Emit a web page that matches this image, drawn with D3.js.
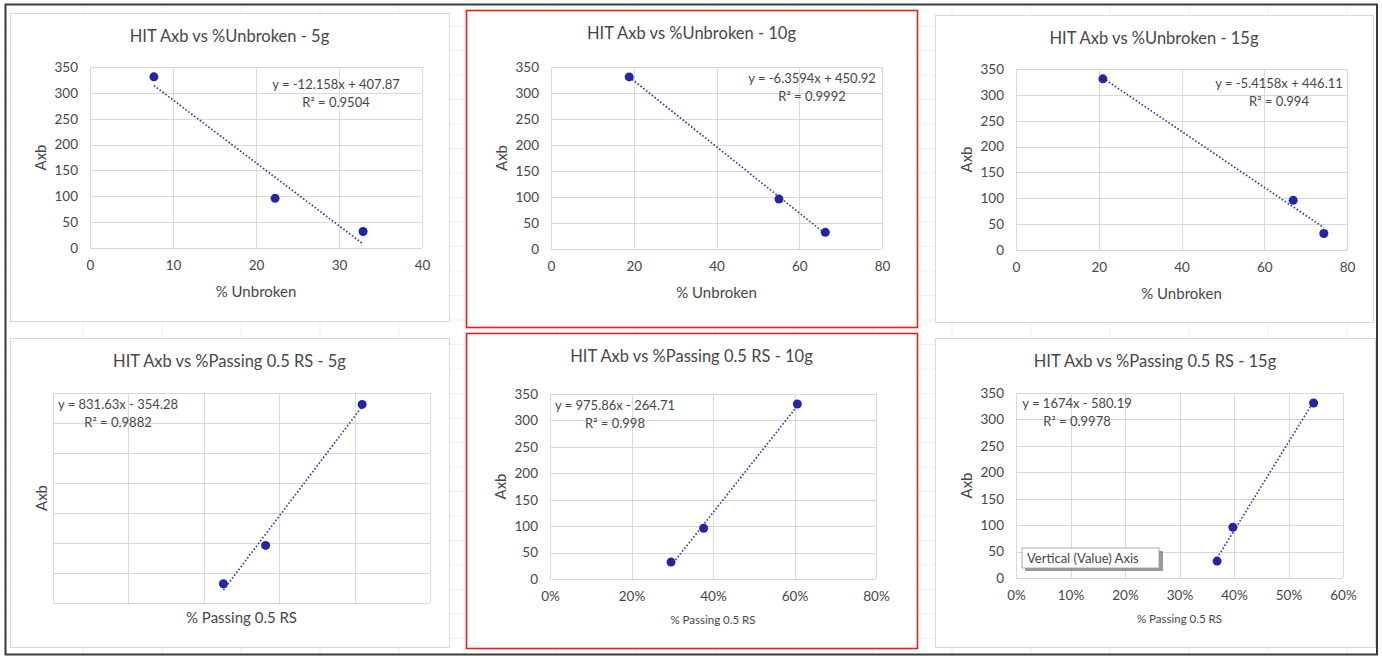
<!DOCTYPE html>
<html>
<head>
<meta charset="utf-8">
<script src="https://cdn.jsdelivr.net/npm/d3@7"></script>
<style>
  html, body { margin: 0; padding: 0; background: #fff; }
  svg { display: block; }
  text { font-family: Lato, "Open Sans", sans-serif; fill: #474747; }
</style>
</head>
<body>
<div id="sheet"></div>
<script>
// three ore samples, same order in every array
const axbValues = [331, 96, 32];
const unbroken5 = [7.7, 22.3, 32.9];
const unbroken10 = [18.9, 55.1, 66.3];
const unbroken15 = [21.0, 67.0, 74.4];
const passing5 = [0.820, 0.564, 0.452];
const passing10 = [0.607, 0.377, 0.297];
const passing15 = [0.546, 0.398, 0.369];

const chartTitles = [
  "HIT Axb vs %Unbroken - 5g", "HIT Axb vs %Unbroken - 10g", "HIT Axb vs %Unbroken - 15g",
  "HIT Axb vs %Passing 0.5 RS - 5g", "HIT Axb vs %Passing 0.5 RS - 10g", "HIT Axb vs %Passing 0.5 RS - 15g"
];
const xTitles = ["% Unbroken", "% Unbroken", "% Unbroken", "% Passing 0.5 RS", "% Passing 0.5 RS", "% Passing 0.5 RS"];
const yTitle = "Axb";
const slopes = [-12.158, -6.3594, -5.4158, 831.63, 975.86, 1674];
const intercepts = [407.87, 450.92, 446.11, -354.28, -264.71, -580.19];
const rSquared = [0.9504, 0.9992, 0.994, 0.9882, 0.998, 0.9978];
const xDomains = [[0, 40], [0, 80], [0, 80], [0, 1], [0, 0.8], [0, 0.6]];
const xTicks = [[0, 10, 20, 30, 40], [0, 20, 40, 60, 80], [0, 20, 40, 60, 80],
  [0, 0.2, 0.4, 0.6, 0.8, 1], [0, 0.2, 0.4, 0.6, 0.8], [0, 0.1, 0.2, 0.3, 0.4, 0.5, 0.6]];
const yTicks = [0, 50, 100, 150, 200, 250, 300, 350];
const xSeries = [unbroken5, unbroken10, unbroken15, passing5, passing10, passing15];

// layout of the six chart objects on the sheet
const layout = [
  { box: [10, 13, 449, 321], plot: [90, 67, 422, 248], labels: true, pct: false, eq: [336, 89], xt: 44, xtSize: 15, red: false },
  { box: [466, 10, 917, 327], plot: [551, 67, 882, 249], labels: true, pct: false, eq: [812, 83], xt: 44, xtSize: 15, red: true },
  { box: [935, 15, 1373, 322], plot: [1016, 69, 1347, 250], labels: true, pct: false, eq: [1279, 88], xt: 44, xtSize: 15, red: false },
  { box: [10, 338, 449, 647], plot: [53, 393, 430, 603], labels: false, pct: true, eq: [118, 409], xt: 15, xtSize: 15, red: false },
  { box: [466, 333, 917, 648], plot: [550, 394, 876, 579], labels: true, pct: true, eq: [615, 410], xt: 41, xtSize: 11.5, red: true },
  { box: [935, 338, 1375, 647], plot: [1016, 393, 1343, 578], labels: true, pct: true, eq: [1077, 408], xt: 41, xtSize: 11.5, red: false }
];

const W = 1382, H = 656;
const svg = d3.select("#sheet").append("svg").attr("width", W).attr("height", H);

svg.append("rect").attr("width", W).attr("height", H).attr("fill", "#fff");

// faint spreadsheet cell lines behind the charts
const sheet = svg.append("g").attr("stroke", "#efefef").attr("stroke-width", 1);
sheet.selectAll("line.col").data(d3.range(83, W, 79)).enter().append("line")
  .attr("x1", d => d).attr("x2", d => d).attr("y1", 6).attr("y2", H - 2);
sheet.selectAll("line.row").data(d3.range(26, H, 24.5)).enter().append("line")
  .attr("y1", d => d).attr("y2", d => d).attr("x1", 6).attr("x2", W - 5);

// outer frame of the screenshot
svg.append("rect").attr("x", 5.5).attr("y", 4.5).attr("width", 1371.5).attr("height", 650)
  .attr("fill", "none").attr("stroke", "#3a3a3a").attr("stroke-width", 2);

const fmtEq = (m, b) => "y = " + m + "x " + (b < 0 ? "- " : "+ ") + Math.abs(b);

layout.forEach((L, i) => {
  const g = svg.append("g");
  const [bx0, by0, bx1, by1] = L.box;
  const [px0, py0, px1, py1] = L.plot;

  g.append("rect").attr("x", bx0 + 0.5).attr("y", by0 + 0.5)
    .attr("width", bx1 - bx0).attr("height", by1 - by0)
    .attr("fill", "#fff")
    .attr("stroke", L.red ? "#f01c1c" : "#d9d9d9")
    .attr("stroke-width", L.red ? 1.6 : 1);

  const x = d3.scaleLinear().domain(xDomains[i]).range([px0, px1]);
  const y = d3.scaleLinear().domain([0, 350]).range([py1, py0]);

  // gridlines
  g.append("g").selectAll("line").data(yTicks).enter().append("line")
    .attr("x1", px0).attr("x2", px1)
    .attr("y1", d => Math.round(y(d)) + 0.5).attr("y2", d => Math.round(y(d)) + 0.5)
    .attr("stroke", "#d9d9d9");
  g.append("g").selectAll("line").data(xTicks[i]).enter().append("line")
    .attr("y1", py0).attr("y2", py1)
    .attr("x1", d => Math.round(x(d)) + 0.5).attr("x2", d => Math.round(x(d)) + 0.5)
    .attr("stroke", "#d9d9d9");

  if (L.labels) {
    const yAxis = d3.axisLeft(y).tickValues(yTicks).tickSize(0).tickPadding(12);
    const xAxis = d3.axisBottom(x).tickValues(xTicks[i]).tickSize(0).tickPadding(12)
      .tickFormat(L.pct ? d3.format(".0%") : d3.format("d"));
    const ya = g.append("g").attr("transform", `translate(${px0},0)`).call(yAxis);
    const xa = g.append("g").attr("transform", `translate(0,${py1})`).call(xAxis);
    [ya, xa].forEach(a => {
      a.select(".domain").remove();
      a.selectAll("text").style("font-family", "Lato, sans-serif").style("font-size", "13.5px").attr("fill", "#4a4a4a");
    });
  }

  // titles
  g.append("text").attr("x", (bx0 + bx1) / 2).attr("y", by0 + 29)
    .attr("text-anchor", "middle").style("font-size", "16.5px").text(chartTitles[i]);
  g.append("text").attr("x", (px0 + px1) / 2).attr("y", py1 + L.xt + L.xtSize * 0.35)
    .attr("text-anchor", "middle").style("font-size", L.xtSize + "px").text(xTitles[i]);
  const yx = L.labels ? px0 - 49 : px0 - 11;
  g.append("text").attr("transform", `translate(${yx + 5},${(py0 + py1) / 2}) rotate(-90)`)
    .attr("text-anchor", "middle").style("font-size", "15px").text(yTitle);

  // linear trendline over the data range
  const xs = xSeries[i];
  const ext = d3.extent(xs);
  const line = d3.line().x(d => x(d)).y(d => y(slopes[i] * d + intercepts[i]));
  g.append("path").datum(ext).attr("d", line)
    .attr("fill", "none").attr("stroke", "#33409e").attr("stroke-width", 1.7)
    .attr("stroke-dasharray", "1.6,2");

  // points
  g.append("g").selectAll("circle").data(xs).enter().append("circle")
    .attr("cx", d => x(d)).attr("cy", (d, k) => y(axbValues[k]))
    .attr("r", 4.5).attr("fill", "#2525a4");

  // equation label
  const eq = g.append("text").attr("x", L.eq[0]).attr("y", L.eq[1])
    .attr("text-anchor", "middle").style("font-size", "13px").attr("fill", "#3a3a3a");
  eq.append("tspan").attr("x", L.eq[0]).text(fmtEq(slopes[i], intercepts[i]));
  eq.append("tspan").attr("x", L.eq[0]).attr("dy", 18).text("R\u00b2 = " + rSquared[i]);

  if (i === 5) {
    // hover tooltip captured in the screenshot
    const tip = g.append("g").attr("transform", "translate(1022,548)");
    tip.append("rect").attr("x", 3).attr("y", 3).attr("width", 138).attr("height", 20).attr("fill", "#555").attr("opacity", 0.6);
    tip.append("rect").attr("width", 137).attr("height", 20).attr("fill", "#fff").attr("stroke", "#9a9a9a").attr("stroke-width", 0.8);
    tip.append("text").attr("x", 5).attr("y", 14.5).style("font-size", "13px").attr("fill", "#333").text("Vertical (Value) Axis");
  }
});
</script>
</body>
</html>
